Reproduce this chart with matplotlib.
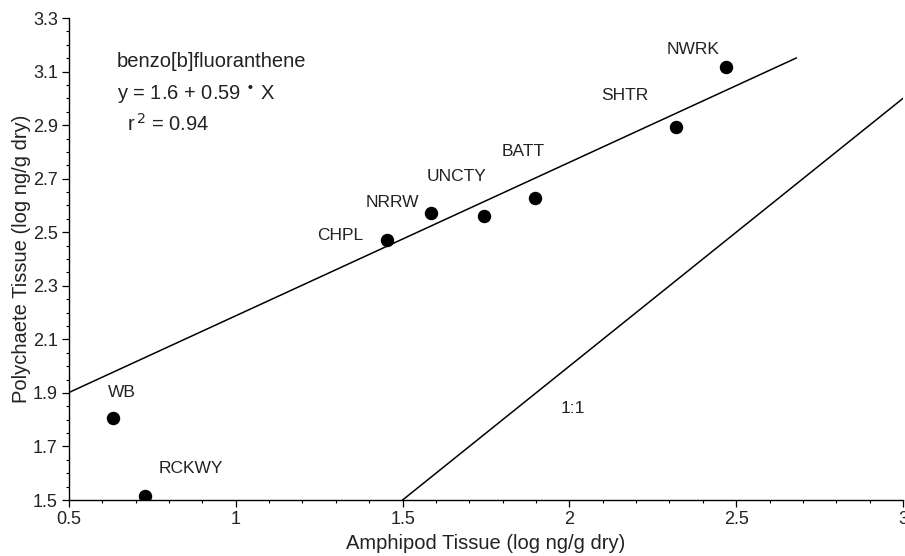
import matplotlib
matplotlib.use('Agg')
import matplotlib.pyplot as plt
import numpy as np

plt.rcParams['font.family'] = ['Liberation Sans', 'DejaVu Sans']

# sites and their log tissue concentrations
sites = ['WB', 'RCKWY', 'CHPL', 'NRRW', 'UNCTY', 'BATT', 'SHTR', 'NWRK']
amphipod = [0.632, 0.728, 1.454, 1.585, 1.745, 1.898, 2.319, 2.469]
polychaete = [1.806, 1.515, 2.471, 2.571, 2.560, 2.629, 2.894, 3.116]

# regression line as drawn in the figure
fit_intercept = 1.615
fit_slope = 0.573
fit_range = [0.5, 2.68]

x_ticks = [0.5, 1, 1.5, 2, 2.5, 3]
x_ticklabels = ['0.5', '1', '1.5', '2', '2.5', '3']
y_ticks = [1.5, 1.7, 1.9, 2.1, 2.3, 2.5, 2.7, 2.9, 3.1, 3.3]

txt = '#222222'

fig = plt.figure(figsize=(9.05, 5.56), dpi=100)
ax = fig.add_axes([0.0762, 0.1007, 0.9216, 0.8669])

ax.scatter(amphipod, polychaete, s=75, color='black', zorder=3)

# label offsets (data units) to sit labels near each point
label_dx = [0.027, 0.138, -0.142, -0.117, -0.082, -0.037, -0.152, -0.099]
label_dy = [0.094, 0.101, 0.015, 0.039, 0.150, 0.174, 0.118, 0.068]
for name, xv, yv, dx, dy in zip(sites, amphipod, polychaete, label_dx, label_dy):
    ax.text(xv + dx, yv + dy, name, ha='center', va='center', fontsize=12.5, color=txt)

fx = np.array(fit_range)
ax.plot(fx, fit_intercept + fit_slope * fx, color='black', lw=1.1)

one = np.array([1.5, 3.0])
ax.plot(one, one, color='black', lw=1.1)
ax.text(2.01, 1.84, '1:1', ha='center', va='center', fontsize=12.5, color=txt)

ax.text(0.644, 3.138, 'benzo[b]fluoranthene', fontsize=14.5, color=txt, va='center')
ax.text(0.644, 3.015, 'y = 1.6 + 0.59 $^{\\bullet}$ X', fontsize=14.5, color=txt, va='center')
ax.text(0.673, 2.904, 'r$^{\\,2}$ = 0.94', fontsize=14.5, color=txt, va='center')

ax.set_xlim(0.5, 3.0)
ax.set_ylim(1.5, 3.3)
ax.set_xticks(x_ticks)
ax.set_xticklabels(x_ticklabels)
ax.set_yticks(y_ticks)
ax.set_yticklabels([f'{v:.1f}' for v in y_ticks])
ax.set_xticks(np.arange(0.5, 3.0, 0.1), minor=True)
ax.set_yticks(np.arange(1.5, 3.3, 0.05), minor=True)
ax.tick_params(which='major', length=5, width=0.9, colors='black', labelcolor=txt, labelsize=13, pad=3)
ax.tick_params(which='minor', length=2.5, width=0.8)

for s in ['top', 'right']:
    ax.spines[s].set_visible(False)
for s in ['left', 'bottom']:
    ax.spines[s].set_linewidth(1.0)

ax.set_xlabel('Amphipod Tissue (log ng/g dry)', fontsize=14.5, color=txt, labelpad=4)
ax.set_ylabel('Polychaete Tissue (log ng/g dry)', fontsize=14.5, color=txt, labelpad=1)

fig.savefig('out.png', dpi=100)
